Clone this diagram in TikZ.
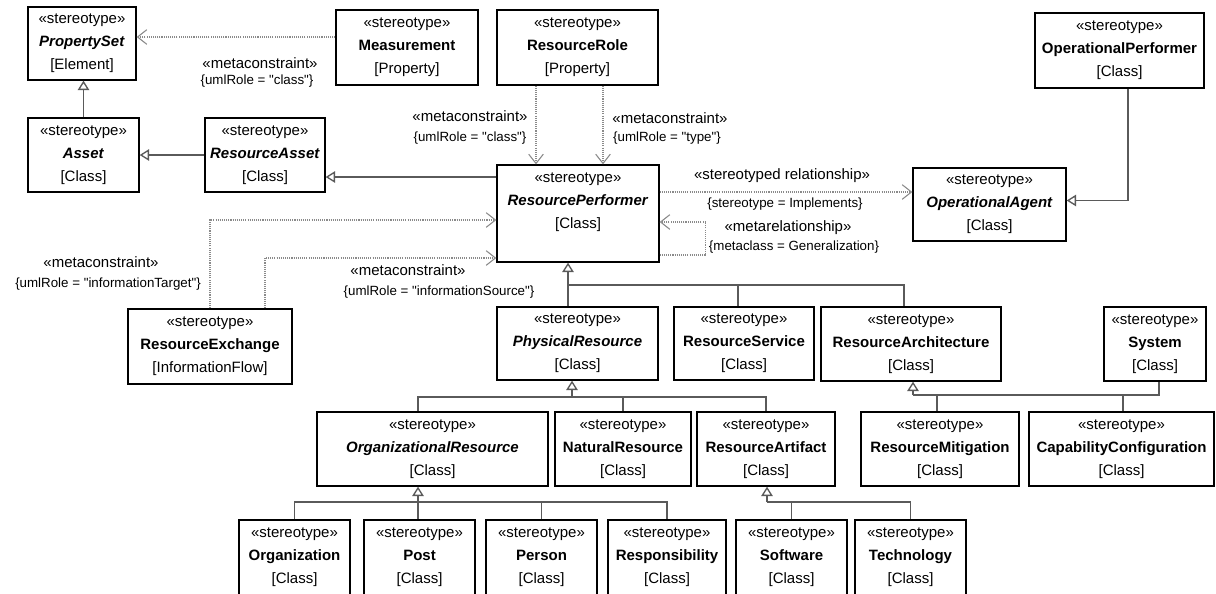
\documentclass[tikz,border=0pt]{standalone}
\usepackage{fontspec}
\setmainfont{Liberation Sans}[Ligatures=TeXOff]
\usetikzlibrary{arrows.meta,calc}
\definecolor{lnc}{HTML}{5A5A5A}
\definecolor{dtc}{HTML}{8A8A8A}
\newcommand{\umltxt}[2]{«stereotype»\\#1\\{}[#2]}
\tikzset{
  umlbox/.style={draw=black, line width=1pt, fill=white, inner sep=0pt, align=center, font=\fontsize{11.25pt}{17.25pt}\selectfont},
  genline/.style={draw=lnc, line width=1.1pt},
  gen/.style={genline, -{Triangle[open, length=7pt, width=8.5pt, line width=1pt]}},
  dep/.style={draw=dtc, line width=0.8pt, dash pattern=on 0.8pt off 0.8pt, -{Straight Barb[length=7pt, width=11pt, line width=0.8pt]}},
  stlab/.style={inner sep=0pt, font=\fontsize{11.25pt}{13pt}\selectfont},
  cnlab/.style={inner sep=0pt, font=\fontsize{10pt}{12pt}\selectfont},
}
\begin{document}
\begin{tikzpicture}[x=0.75pt,y=-0.75pt]
\useasboundingbox (0,0) rectangle (1216,593);
\fill[white] (0,0) rectangle (1216,593);

% boxes
\node[umlbox, minimum width=81pt, minimum height=54.75pt] (ps) at (82,43.5) {\umltxt{\textbf{\textit{PropertySet}}}{Element}};
\node[umlbox, minimum width=106.5pt, minimum height=56.25pt] (meas) at (407,47.5) {\umltxt{\textbf{Measurement}}{Property}};
\node[umlbox, minimum width=120.75pt, minimum height=56.25pt] (rr) at (577.5,47.5) {\umltxt{\textbf{ResourceRole}}{Property}};
\node[umlbox, minimum width=126.75pt, minimum height=56.25pt] (op) at (1119.5,50.5) {\umltxt{\textbf{OperationalPerformer}}{Class}};
\node[umlbox, minimum width=83.25pt, minimum height=55.5pt] (asset) at (83.5,155) {\umltxt{\textbf{\textit{Asset}}}{Class}};
\node[umlbox, minimum width=90pt, minimum height=55.5pt] (ra) at (265,155) {\umltxt{\textbf{\textit{ResourceAsset}}}{Class}};
\node[umlbox, minimum width=121.5pt, minimum height=72.75pt] (rp) at (578,213.5) {«stereotype»\\\textbf{\textit{ResourcePerformer}}\\{}[Class]\rule[-19.5pt]{0pt}{0pt}};
\node[umlbox, minimum width=114.75pt, minimum height=54.75pt] (oa) at (989.5,204.5) {\umltxt{\textbf{\textit{OperationalAgent}}}{Class}};
\node[umlbox, minimum width=123pt, minimum height=56.25pt] (rx) at (210,346.5) {\umltxt{\textbf{ResourceExchange}}{InformationFlow}};
\node[umlbox, minimum width=120.75pt, minimum height=54.75pt] (pr) at (577.5,343.5) {\umltxt{\textbf{\textit{PhysicalResource}}}{Class}};
\node[umlbox, minimum width=105pt, minimum height=54.75pt] (rs) at (744,343.5) {\umltxt{\textbf{ResourceService}}{Class}};
\node[umlbox, minimum width=135pt, minimum height=55.5pt] (rarch) at (911,344) {\umltxt{\textbf{ResourceArchitecture}}{Class}};
\node[umlbox, minimum width=76.5pt, minimum height=55.5pt] (sys) at (1155,344) {\umltxt{\textbf{System}}{Class}};
\node[umlbox, minimum width=173.25pt, minimum height=55.5pt] (orgr) at (432.5,449) {\umltxt{\textbf{\textit{OrganizationalResource}}}{Class}};
\node[umlbox, minimum width=102pt, minimum height=55.5pt] (nr) at (623,449) {\umltxt{\textbf{NaturalResource}}{Class}};
\node[umlbox, minimum width=103.5pt, minimum height=55.5pt] (rart) at (766,449) {\umltxt{\textbf{ResourceArtifact}}{Class}};
\node[umlbox, minimum width=118.5pt, minimum height=55.5pt] (rm) at (940,449) {\umltxt{\textbf{ResourceMitigation}}{Class}};
\node[umlbox, minimum width=138.75pt, minimum height=55.5pt] (cc) at (1121.5,449) {\umltxt{\textbf{CapabilityConfiguration}}{Class}};
\node[umlbox, minimum width=83.25pt, minimum height=56.25pt] (org) at (294.5,557.5) {\umltxt{\textbf{Organization}}{Class}};
\node[umlbox, minimum width=83.25pt, minimum height=56.25pt] (post) at (419.5,557.5) {\umltxt{\textbf{Post}}{Class}};
\node[umlbox, minimum width=83.25pt, minimum height=56.25pt] (person) at (541.5,557.5) {\umltxt{\textbf{Person}}{Class}};
\node[umlbox, minimum width=88.5pt, minimum height=56.25pt] (resp) at (667,557.5) {\umltxt{\textbf{Responsibility}}{Class}};
\node[umlbox, minimum width=83.25pt, minimum height=56.25pt] (sw) at (791.5,557.5) {\umltxt{\textbf{Software}}{Class}};
\node[umlbox, minimum width=83.25pt, minimum height=56.25pt] (tech) at (910.5,557.5) {\umltxt{\textbf{Technology}}{Class}};

% dependencies (dotted)
\draw[dep] ($(meas.west)+(0,-10.5)$) coordinate (m1) -- (ps.east |- m1);
\draw[dep] ($(rr.south)+(-41.5,0)$) coordinate (q1) -- (rp.north -| q1);
\draw[dep] ($(rr.south)+(25.5,0)$) coordinate (q2) -- (rp.north -| q2);
\draw[dep] ($(rp.east)+(0,-21.5)$) coordinate (s1) -- (oa.west |- s1);
\draw[dep] ($(rp.east)+(0,41.5)$) -- ++(46,0) -- ++(0,-33) -- ($(rp.east)+(0,8.5)$);
\draw[dep] (rx.north) |- ($(rp.west)+(0,6.5)$);
\draw[dep] ($(rx.north)+(55,0)$) |- ($(rp.west)+(0,44.5)$);

% generalizations
\draw[gen] (asset.north) -- (asset.north |- ps.south);
\draw[gen] (ra.west) -- (asset.east);
\draw[gen] ($(rp.west)+(0,-36.5)$) coordinate (r1) -- (ra.east |- r1);
\draw[gen] ($(op.south)+(8.5,0)$) |- ($(oa.east)+(0,-4)$);

\coordinate (bus1) at (568,285);
\draw[gen] (pr.north -| bus1) -- (rp.south -| bus1);
\draw[genline] (bus1) -| ($(rarch.north)+(-7,0)$);
\draw[genline] ($(rs.north)+(-6,0)$) coordinate (t2) -- (t2 |- bus1);

\coordinate (bus2) at (572,397);
\draw[gen] (bus2) -- (pr.south -| bus2);
\draw[genline] ($(orgr.north)+(-14.5,0)$) |- (bus2) -| (rart.north);
\draw[genline] (nr.north) -- (nr.north |- bus2);

\coordinate (bus3) at (913,395);
\draw[gen] (bus3) -- (rarch.south -| bus3);
\draw[genline] (bus3) -| ($(sys.south)+(4,0)$);
\draw[genline] ($(rm.north)+(-3,0)$) coordinate (t3) -- (t3 |- bus3);
\draw[genline] ($(cc.north)+(1.5,0)$) coordinate (t4) -- (t4 |- bus3);

\coordinate (bus4) at (418,502);
\draw[gen] (post.north -| bus4) -- (orgr.south -| bus4);
\draw[genline] (org.north) |- (bus4) -| (resp.north);
\draw[genline] (person.north) -- (person.north |- bus4);

\coordinate (bus5) at (767,502);
\draw[gen] (bus5) -- (rart.south -| bus5);
\draw[genline] (bus5) -| (tech.north);
\draw[genline] (sw.north) -- (sw.north |- bus5);

% labels
\node[stlab] (l1a) at (260,63) {«metaconstraint»};
\node[cnlab] (l1b) at (257,81) {\{umlRole = "class"\}};
\node[stlab] (l2a) at (470,116) {«metaconstraint»};
\node[cnlab] (l2b) at (470,138) {\{umlRole = "class"\}};
\node[stlab] (l3a) at (670,118) {«metaconstraint»};
\node[cnlab] (l3b) at (667,138) {\{umlRole = "type"\}};
\node[stlab] (l4a) at (782,176) {«stereotyped relationship»};
\node[cnlab] (l4b) at (785,204) {\{stereotype = Implements\}};
\node[stlab] (l5a) at (788,228) {«metarelationship»};
\node[cnlab] (l5b) at (794,247) {\{metaclass = Generalization\}};
\node[stlab] (l6a) at (101,262) {«metaconstraint»};
\node[cnlab] (l6b) at (108,284) {\{umlRole = "informationTarget"\}};
\node[stlab] (l7a) at (408,270) {«metaconstraint»};
\node[cnlab] (l7b) at (439,292) {\{umlRole = "informationSource"\}};
\end{tikzpicture}
\end{document}
